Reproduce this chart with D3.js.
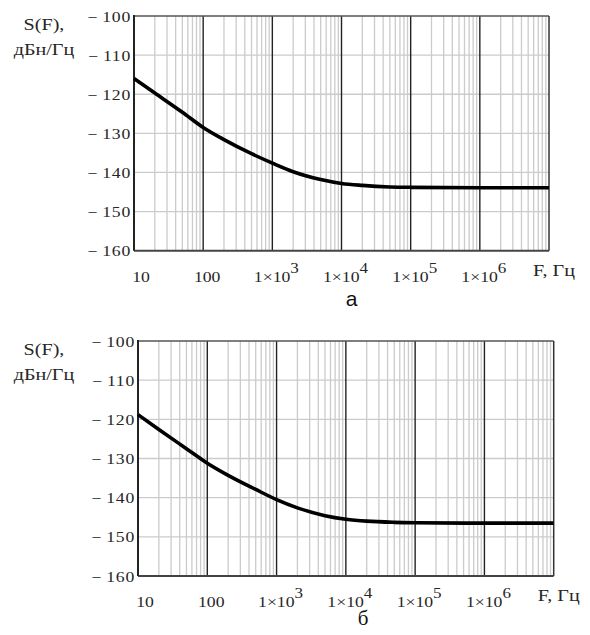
<!DOCTYPE html>
<html>
<head>
<meta charset="utf-8">
<script src="https://cdn.jsdelivr.net/npm/d3@7"></script>
<style>
  body { margin: 0; background: #fff; }
  svg { display: block; }
</style>
</head>
<body>
<div id="chart"></div>
<script>
// frequencies (Hz) and spectral density S(F), dBc/Hz
const freqA = [10, 20, 50, 100, 200, 500, 1e3, 2e3, 5e3, 1e4, 2e4, 5e4, 1e5, 1e6, 1e7];
const sA = [-116, -119.7, -124.6, -128.5, -131.6, -135.2, -137.6, -139.8, -141.8, -142.8, -143.3, -143.7, -143.8, -143.9, -143.9];

const freqB = [10, 20, 50, 100, 200, 500, 1e3, 2e3, 5e3, 1e4, 2e4, 5e4, 1e5, 1e6, 1e7];
const sB = [-118.8, -122.6, -127.5, -131.2, -134.3, -137.9, -140.5, -142.6, -144.6, -145.5, -146, -146.3, -146.4, -146.5, -146.5];

const yTicks = [-100, -110, -120, -130, -140, -150, -160];
const xTicks = [10, 100, 1e3, 1e4, 1e5, 1e6];
const xTickText = ["10", "100", "1×10|3", "1×10|4", "1×10|5", "1×10|6"];

const panels = [
  { freq: freqA, s: sA, left: 134, right: 549, top: 16, bottom: 250.7, tag: "а", tagFont: "Liberation Sans", tagX: 351.5, tagY: 306 },
  { freq: freqB, s: sB, left: 138, right: 553.7, top: 341, bottom: 576, tag: "б", tagFont: "Liberation Serif", tagX: 363, tagY: 625 }
];

const width = 590, height = 635;
const sx = 1.22; // the scan is stretched sideways

const svg = d3.select("#chart").append("svg")
  .attr("width", width).attr("height", height)
  .style("font-family", "'Liberation Serif', 'Times New Roman', serif");

function label(g, x, y, txt, size, anchor) {
  return g.append("text")
    .attr("transform", `translate(${x},${y}) scale(${sx},1)`)
    .attr("text-anchor", anchor || "middle")
    .attr("font-size", size)
    .attr("font-weight", 400)
    .attr("fill", "#262626")
    .text(txt);
}

panels.forEach(p => {
  const x = d3.scaleLog().domain([10, 1e7]).range([p.left, p.right]);
  const y = d3.scaleLinear().domain([-160, -100]).range([p.bottom, p.top]);
  const g = svg.append("g");

  // minor log grid
  const minor = [];
  for (let d = 10; d < 1e7; d *= 10) for (let k = 2; k <= 9; k++) minor.push(d * k);
  g.selectAll(".minor").data(minor).join("line")
    .attr("x1", d => x(d)).attr("x2", d => x(d))
    .attr("y1", p.top).attr("y2", p.bottom)
    .attr("stroke", "#cbcbcb").attr("stroke-width", 1.3);

  g.selectAll(".hgrid").data(yTicks.slice(1, -1)).join("line")
    .attr("x1", p.left).attr("x2", p.right)
    .attr("y1", d => y(d)).attr("y2", d => y(d))
    .attr("stroke", "#cbcbcb").attr("stroke-width", 1.3);

  // decades
  g.selectAll(".major").data([100, 1e3, 1e4, 1e5, 1e6]).join("line")
    .attr("x1", d => x(d)).attr("x2", d => x(d))
    .attr("y1", p.top).attr("y2", p.bottom)
    .attr("stroke", "#222").attr("stroke-width", 1.4);

  // frame
  g.append("line").attr("x1", p.left).attr("x2", p.right).attr("y1", p.top).attr("y2", p.top)
    .attr("stroke", "#555").attr("stroke-width", 1.5);
  g.append("line").attr("x1", p.right).attr("x2", p.right).attr("y1", p.top).attr("y2", p.bottom)
    .attr("stroke", "#333").attr("stroke-width", 1.5);
  g.append("line").attr("x1", p.left).attr("x2", p.right).attr("y1", p.bottom).attr("y2", p.bottom)
    .attr("stroke", "#444").attr("stroke-width", 2);
  g.append("line").attr("x1", p.left).attr("x2", p.left).attr("y1", p.top - 1).attr("y2", p.bottom)
    .attr("stroke", "#222").attr("stroke-width", 2);

  // curve
  const line = d3.line().x((d, i) => x(p.freq[i])).y(d => y(d)).curve(d3.curveMonotoneX);
  g.append("path").datum(p.s)
    .attr("d", line)
    .attr("fill", "none").attr("stroke", "#000").attr("stroke-width", 3.6);

  // y tick labels
  yTicks.forEach(v => {
    label(g, p.left - 3, y(v) + 5.5, "\u2212\u2009" + Math.abs(v), 14.5, "end")
      .attr("letter-spacing", 0.6);
  });

  // x tick labels
  xTicks.forEach((v, i) => {
    const parts = xTickText[i].split("|");
    const cx = i === 0 ? x(v) + 7 : x(v) + 4;
    const t = label(g, cx, p.bottom + 31, parts[0], 14.5, "middle");
    if (parts[1]) {
      t.append("tspan").attr("dy", -9).attr("font-size", 14).text(parts[1]);
    }
  });

  label(g, p.right + 5, p.bottom + 25, "F, Гц", 16.5, "middle");

  label(g, 44, p.top + 14, "S(F),", 16.5, "middle");
  label(g, 44, p.top + 39, "дБн/Гц", 16.5, "middle");

  g.append("text")
    .attr("x", p.tagX).attr("y", p.tagY)
    .attr("text-anchor", "middle")
    .attr("font-family", p.tagFont)
    .attr("font-size", 21)
    .attr("fill", "#111")
    .text(p.tag);
});
</script>
</body>
</html>
